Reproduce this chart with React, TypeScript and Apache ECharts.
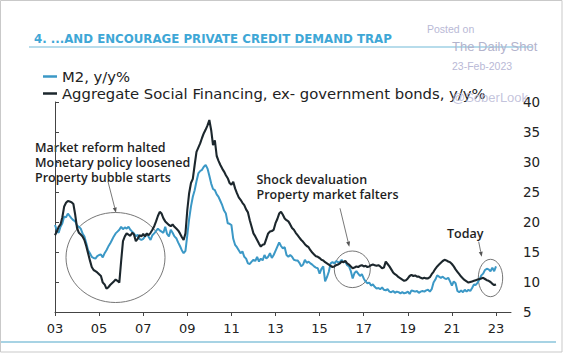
import React, { useEffect, useRef } from 'react';
import * as echarts from 'echarts';

// Monthly data, Jan 2003 .. Jan 2023
const m2: number[] = [
  // 2003
  19.5, 18.6, 18.2, 19.2, 19.8, 20.9, 20.8, 21.4, 21.0, 20.6, 20.3, 20.1,
  // 2004
  19.4, 19.2, 18.9, 18.1, 17.6, 16.5, 15.3, 14.8, 14.2, 14.0, 13.9, 14.3,
  // 2005
  14.5, 14.6, 14.1, 14.8, 15.3, 15.9, 16.4, 17.0, 17.6, 18.1, 18.4, 18.7,
  // 2006
  19.2, 18.8, 19.1, 18.9, 19.2, 18.7, 18.4, 18.1, 17.6, 17.9, 17.2, 17.0,
  // 2007
  17.2, 17.6, 18.1, 17.5, 17.0, 17.8, 18.1, 18.5, 18.9, 18.6, 18.4, 18.2,
  // 2008
  19.2, 18.0, 17.6, 18.7, 18.2, 17.6, 17.3, 16.6, 16.0, 15.3, 14.8, 15.2,
  // 2009
  17.8, 20.5, 22.6, 24.2, 25.3, 26.8, 28.1, 28.5, 28.7, 29.2, 29.5, 28.9,
  // 2010
  27.7, 26.4, 25.5, 25.3, 24.6, 24.2, 23.5, 22.8, 21.9, 21.4, 19.8, 19.7,
  // 2011
  19.5, 17.2, 16.2, 15.8, 15.3, 14.8, 15.1, 14.2, 13.9, 13.1, 13.0, 13.4,
  // 2012
  13.7, 13.5, 14.2, 13.4, 13.9, 13.6, 14.5, 13.9, 14.2, 14.8, 14.0, 14.5,
  // 2013
  15.2, 15.9, 16.6, 16.0, 15.6, 15.8, 14.5, 14.2, 14.5, 14.2, 13.7, 13.6,
  // 2014
  13.6, 13.2, 12.6, 12.9, 13.7, 13.2, 13.4, 13.1, 12.9, 12.6, 12.4, 12.3,
  // 2015
  11.4, 12.2, 12.6, 10.1, 10.8, 11.7, 13.1, 13.3, 13.1, 13.5, 13.3, 13.3,
  // 2016
  13.7, 13.3, 13.4, 12.8, 12.6, 11.8, 10.6, 11.5, 11.8, 11.4, 11.0, 11.3,
  // 2017
  10.6, 10.1, 9.8, 9.9, 9.4, 9.6, 9.2, 8.9, 9.0, 8.8, 9.1, 8.7,
  // 2018
  8.6, 8.8, 8.4, 8.3, 8.5, 8.2, 8.4, 8.3, 8.1, 8.3, 8.1, 8.2,
  // 2019
  8.4, 8.0, 8.6, 8.5, 8.4, 8.5, 8.2, 8.4, 8.5, 8.4, 8.6, 8.7,
  // 2020
  8.4, 8.8, 9.9, 10.4, 11.1, 10.9, 10.7, 10.9, 10.6, 10.5, 10.7, 10.1,
  // 2021
  9.4, 10.1, 9.8, 8.5, 8.3, 8.6, 8.3, 8.7, 8.4, 8.7, 8.5, 9.0,
  // 2022
  9.6, 9.5, 9.9, 10.4, 11.1, 11.4, 12.0, 12.2, 12.1, 11.8, 12.4, 11.8,
  // 2023
  12.6,
];

const asf: number[] = [
  // 2003
  17.8, 18.4, 19.2, 19.6, 20.8, 22.6, 23.2, 23.5, 23.4, 23.3, 23.0, 21.2,
  // 2004
  19.0, 18.2, 17.9, 17.6, 17.0, 16.0, 14.8, 13.6, 12.5, 12.0, 11.8, 11.6,
  // 2005
  11.3, 11.0, 9.9, 9.6, 8.9, 9.1, 9.5, 9.8, 10.1, 10.4, 10.2, 9.9,
  // 2006
  13.5, 16.8, 17.6, 18.1, 17.9, 17.7, 18.2, 17.9, 16.8, 17.2, 17.8, 17.6,
  // 2007
  18.0, 17.6, 18.1, 17.8, 18.2, 18.7, 19.3, 20.1, 21.0, 21.7, 21.4, 20.6,
  // 2008
  20.1, 19.8, 19.5, 19.3, 19.6, 19.2, 18.9, 18.6, 18.1, 17.5, 17.0, 18.1,
  // 2009
  22.0, 24.8, 26.5, 27.2, 29.5, 31.7, 32.4, 33.1, 34.0, 34.8, 35.4, 36.1,
  // 2010
  37.0, 35.3, 32.8, 33.6, 31.0, 30.2, 29.5, 28.9, 28.4, 27.8, 27.3, 26.5,
  // 2011
  26.2, 26.7, 25.6, 24.8, 24.1, 23.7, 23.2, 22.8, 22.1, 21.6, 20.3, 19.2,
  // 2012
  18.1, 17.6, 17.0, 16.4, 15.9, 16.2, 16.3, 17.2, 18.1, 18.4, 18.5, 18.7,
  // 2013
  19.8, 20.5, 21.4, 21.7, 21.2, 20.6, 20.3, 20.1, 19.6, 19.0, 18.7, 18.2,
  // 2014
  17.8, 17.4, 17.0, 16.7, 16.3, 16.0, 15.8, 15.3, 14.9, 14.6, 14.3, 14.2,
  // 2015
  14.0, 13.7, 13.6, 13.3, 13.1, 12.9, 12.7, 12.5, 12.6, 12.8, 12.9, 13.1,
  // 2016
  13.4, 13.3, 13.5, 13.1, 12.9, 12.6, 12.3, 12.4, 12.6, 12.5, 12.7, 12.8,
  // 2017
  12.6, 12.7, 12.5, 12.6, 12.8, 12.9, 12.8, 12.7, 12.8, 12.6, 12.3, 12.4,
  // 2018
  13.4, 13.0, 12.6, 12.1, 11.6, 11.3, 11.1, 10.8, 10.6, 10.4, 10.2, 10.3,
  // 2019
  10.6, 11.0, 11.2, 11.0, 11.1, 10.9, 10.9, 10.7, 10.6, 10.7, 10.6, 10.6,
  // 2020
  10.8, 11.3, 11.7, 12.2, 12.6, 12.9, 13.2, 13.5, 13.7, 13.6, 13.4, 13.3,
  // 2021
  13.0, 12.6, 12.1, 11.7, 11.3, 10.9, 10.6, 10.3, 10.1, 9.9, 10.0, 10.1,
  // 2022
  10.2, 10.3, 10.4, 10.5, 10.6, 10.7, 10.5, 10.3, 10.2, 10.0, 9.7, 9.5,
  // 2023
  9.6,
];

const xTickValues = [0, 2, 4, 6, 8, 10, 12, 14, 16, 18, 20];
const xTickLabels = ['03', '05', '07', '09', '11', '13', '15', '17', '19', '21', '23'];

const TITLE = '4. ...AND ENCOURAGE PRIVATE CREDIT DEMAND TRAP';
const SERIES_M2 = 'M2, y/y%';
const SERIES_ASF = 'Aggregate Social Financing, ex- government bonds, y/y%';
const NOTE1 = ['Market reform halted', 'Monetary policy loosened', 'Property bubble starts'];
const NOTE2 = ['Shock devaluation', 'Property market falters'];
const NOTE3 = ['Today'];

const FONT = '"Open Sans", "Liberation Sans", sans-serif';
const WIDE = '"DejaVu Sans", "Open Sans", sans-serif';

export default function App() {
  const ref = useRef<HTMLDivElement>(null);

  useEffect(() => {
    document.body.style.margin = '0';
    const chart = echarts.init(ref.current!, null, { renderer: 'svg' });
    const pairs = (arr: number[]) => arr.map((v, i) => [i / 12, v]);
    const grey = '#555';

    const arrow = (x1: number, y1: number, x2: number, y2: number) => {
      const dx = x2 - x1, dy = y2 - y1;
      const len = Math.sqrt(dx * dx + dy * dy);
      const ux = dx / len, uy = dy / len;
      const bx = x2 - ux * 5, by = y2 - uy * 5;
      const px = -uy * 2, py = ux * 2;
      return [
        { type: 'line', shape: { x1, y1, x2: bx, y2: by }, style: { stroke: grey, lineWidth: 0.8 } },
        { type: 'polygon', shape: { points: [[x2, y2], [bx + px, by + py], [bx - px, by - py]] }, style: { fill: grey } },
      ];
    };

    const noteText = (lines: string[], x: number, yTop: number) => ({
      type: 'text', x, y: yTop,
      style: {
        text: lines.join('\n'), fill: '#1e1e1e', fontFamily: FONT, fontSize: 12.5, fontWeight: 600,
        lineHeight: 14.7, textVerticalAlign: 'top',
      },
    });

    chart.setOption({
      animation: false,
      backgroundColor: '#fff',
      textStyle: { fontFamily: FONT },
      title: {
        text: TITLE, left: 29, top: 28,
        textStyle: { color: '#3ea7d6', fontSize: 11.8, fontWeight: 'bold', fontFamily: WIDE },
      },
      legend: {
        orient: 'vertical', left: 38, top: 64, icon: 'rect', itemWidth: 14, itemHeight: 2.5, itemGap: 2,
        textStyle: { fontSize: 14.8, color: '#222', fontFamily: WIDE },
        data: [SERIES_M2, SERIES_ASF],
      },
      grid: { left: 55, right: 53, top: 102, bottom: 41, containLabel: false },
      xAxis: {
        type: 'value', min: 0, max: 20.68,
        axisLine: { show: true, lineStyle: { color: '#444', width: 1 } },
        axisTick: { show: true, length: 4, customValues: xTickValues, lineStyle: { color: '#444' } },
        axisLabel: {
          customValues: xTickValues, margin: 10, color: '#222', fontSize: 13, fontFamily: WIDE,
          formatter: (v: number) => xTickLabels[Math.round(v / 2)] ?? '',
        },
        splitLine: { show: false },
      },
      yAxis: {
        type: 'value', position: 'right', min: 5, max: 40, interval: 5,
        axisLine: { show: true, lineStyle: { color: '#444', width: 1 } },
        axisTick: { show: true, length: 4, lineStyle: { color: '#444' } },
        axisLabel: { margin: 12, color: '#222', fontSize: 13.5, fontFamily: WIDE },
        splitLine: { show: false },
      },
      series: [
        {
          name: SERIES_M2, type: 'line', data: pairs(m2), showSymbol: false,
          lineStyle: { color: '#3b98c6', width: 2 }, itemStyle: { color: '#3b98c6' }, z: 2,
        },
        {
          name: SERIES_ASF, type: 'line', data: pairs(asf), showSymbol: false,
          lineStyle: { color: '#1c272d', width: 2.1 }, itemStyle: { color: '#1c272d' }, z: 3,
        },
      ],
      graphic: [
        { type: 'rect', shape: { x: 0.5, y: 0.5, width: 561.5, height: 351.5 }, style: { fill: 'none', stroke: '#c9c9c9', lineWidth: 1 }, silent: true },
        { type: 'line', shape: { x1: 29, y1: 47, x2: 532, y2: 47 }, style: { stroke: '#9fd0e4', lineWidth: 1.5 } },
        { type: 'line', shape: { x1: 1, y1: 342, x2: 556, y2: 342 }, style: { stroke: '#a7d3e4', lineWidth: 2 } },
        // watermark
        { type: 'text', x: 427, y: 29, style: { text: 'Posted on', fill: '#b9b9d6', font: '10.5px "Liberation Sans", Arial, sans-serif', textVerticalAlign: 'middle' }, z: 100 },
        { type: 'text', x: 452, y: 46, style: { text: 'The Daily Shot', fill: '#b3b3cc', font: '13px "Liberation Sans", Arial, sans-serif', textVerticalAlign: 'middle' }, z: 100 },
        { type: 'text', x: 452, y: 65.5, style: { text: '23-Feb-2023', fill: '#b9b9d6', font: '10.5px "Liberation Sans", Arial, sans-serif', textVerticalAlign: 'middle' }, z: 100 },
        { type: 'text', x: 452, y: 97, style: { text: '@SoberLook', fill: 'rgba(185,185,214,0.85)', font: '13px "Liberation Sans", Arial, sans-serif', textVerticalAlign: 'middle' }, z: 100 },
        // annotations
        noteText(NOTE1, 35, 140.5),
        noteText(NOTE2, 256.5, 172.5),
        noteText(NOTE3, 447, 226),
        ...arrow(108, 181.7, 116, 212.7),
        ...arrow(340, 208.3, 349.3, 246.7),
        ...arrow(478.7, 241.7, 481.7, 256.7),
        { type: 'ellipse', shape: { cx: 115.5, cy: 257.5, rx: 49.5, ry: 45 }, style: { fill: 'none', stroke: '#666', lineWidth: 0.9 } },
        { type: 'ellipse', shape: { cx: 352.3, cy: 269.3, rx: 18, ry: 18.3 }, style: { fill: 'none', stroke: '#666', lineWidth: 0.9 } },
        { type: 'ellipse', shape: { cx: 490.5, cy: 278, rx: 12.2, ry: 18.7 }, style: { fill: 'none', stroke: '#666', lineWidth: 0.9 } },
      ],
    });
    return () => chart.dispose();
  }, []);

  return <div ref={ref} style={{ width: 564, height: 353 }} />;
}
